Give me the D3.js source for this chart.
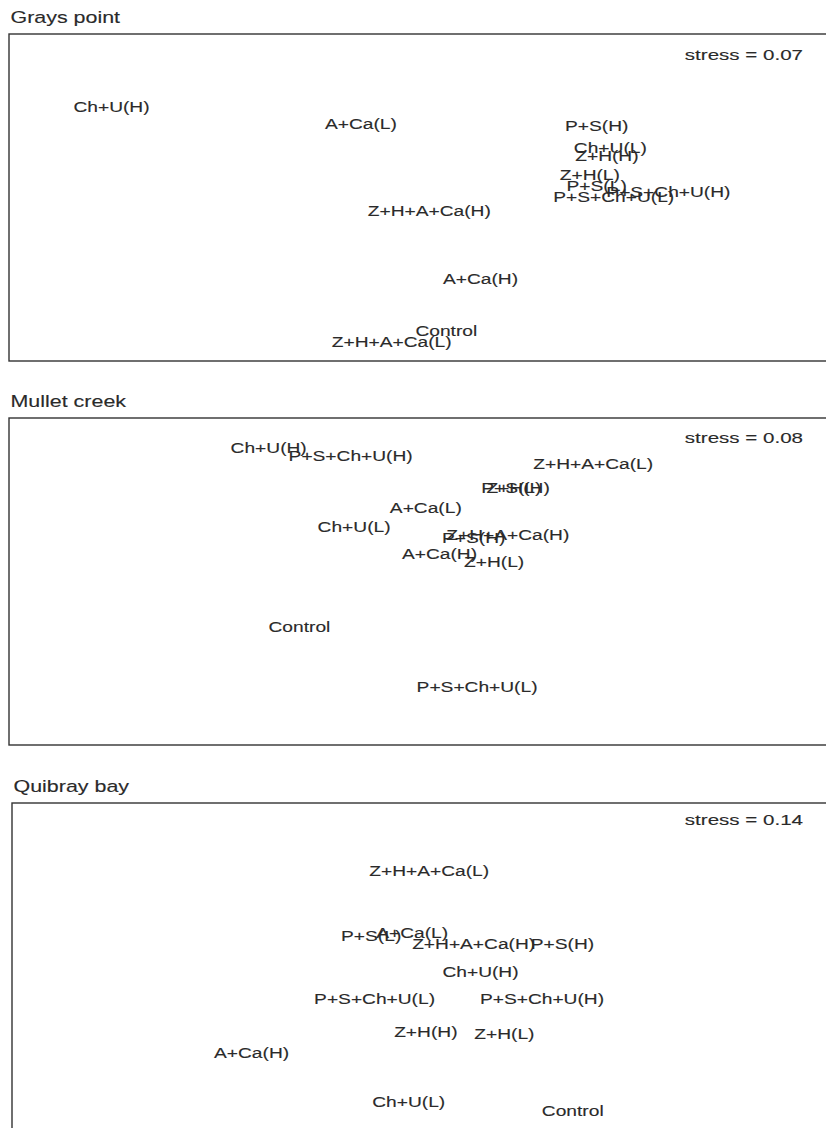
<!DOCTYPE html>
<html>
<head>
<meta charset="utf-8">
<script src="https://cdn.jsdelivr.net/npm/d3@7"></script>
<style>
  html, body { margin: 0; padding: 0; background: #fff; }
  svg { display: block; }
  text { font-family: "Liberation Sans", Arial, Helvetica, sans-serif; fill: #2a2a2a; stroke: #2a2a2a; stroke-width: 0.12px; }
</style>
</head>
<body>
<svg id="chart" width="826" height="1128"></svg>
<script>
// NMDS ordinations of treatment assemblages at three sites

const siteNames = ["Grays point", "Mullet creek", "Quibray bay"];
const stressValues = [0.07, 0.08, 0.14];

// Grays point
const graysLabels = ["Ch+U(H)", "A+Ca(L)", "P+S(H)", "Ch+U(L)", "Z+H(H)", "Z+H(L)", "P+S(L)",
  "P+S+Ch+U(H)", "P+S+Ch+U(L)", "Z+H+A+Ca(H)", "A+Ca(H)", "Control", "Z+H+A+Ca(L)"];
const graysNMDS1 = [-0.90, -0.17, 0.52, 0.56, 0.55, 0.50, 0.52, 0.73, 0.57, 0.03, 0.18, 0.08, -0.08];
const graysNMDS2 = [0.33, 0.27, 0.26, 0.18, 0.15, 0.08, 0.04, 0.02, 0.00, -0.05, -0.30, -0.49, -0.53];

// Mullet creek
const mulletLabels = ["Ch+U(H)", "P+S+Ch+U(H)", "Z+H+A+Ca(L)", "P+S(L)", "Z+H(H)", "A+Ca(L)", "Ch+U(L)",
  "Z+H+A+Ca(H)", "P+S(H)", "A+Ca(H)", "Z+H(L)", "Control", "P+S+Ch+U(L)"];
const mulletNMDS1 = [-0.44, -0.20, 0.51, 0.27, 0.29, 0.02, -0.19, 0.26, 0.16, 0.06, 0.22, -0.35, 0.17];
const mulletNMDS2 = [0.49, 0.46, 0.43, 0.34, 0.34, 0.27, 0.20, 0.17, 0.16, 0.10, 0.07, -0.17, -0.39];

// Quibray bay
const quibrayLabels = ["Z+H+A+Ca(L)", "P+S(L)", "A+Ca(L)", "Z+H+A+Ca(H)", "P+S(H)", "Ch+U(H)", "P+S+Ch+U(L)",
  "P+S+Ch+U(H)", "Z+H(H)", "Z+H(L)", "A+Ca(H)", "Ch+U(L)", "Control"];
const quibrayNMDS1 = [0.03, -0.14, -0.02, 0.16, 0.42, 0.18, -0.13, 0.36, 0.02, 0.25, -0.49, -0.03, 0.45];
const quibrayNMDS2 = [0.35, 0.11, 0.12, 0.08, 0.08, -0.02, -0.12, -0.12, -0.24, -0.25, -0.32, -0.50, -0.53];

const sites = [
  { labels: graysLabels, x: graysNMDS1, y: graysNMDS2 },
  { labels: mulletLabels, x: mulletNMDS1, y: mulletNMDS2 },
  { labels: quibrayLabels, x: quibrayNMDS1, y: quibrayNMDS2 }
];

// panel frames
const frames = [
  { top: 34, left: 9, stressDy: 26 },
  { top: 418, left: 9, stressDy: 25 },
  { top: 803, left: 12, stressDy: 22 }
];
const panelH = 327;
const plotRight = 829;
const stretch = 1.37;   // glyphs are drawn wide
const labelSize = 14;

const svg = d3.select("#chart");

sites.forEach((site, i) => {
  const f = frames[i];
  const g = svg.append("g");

  const x = d3.scaleLinear().domain([-1.2, 1.2]).range([9, plotRight]);
  const y = d3.scaleLinear().domain([-0.6, 0.6]).range([f.top + panelH, f.top]);

  g.append("rect")
    .attr("x", f.left).attr("y", f.top)
    .attr("width", 840 - f.left).attr("height", panelH)
    .attr("fill", "none").attr("stroke", "#333").attr("stroke-width", 1.4);

  g.append("text")
    .attr("transform", `translate(${f.left + 1.5},${f.top - 11}) scale(1.34,1)`)
    .attr("font-size", 16)
    .text(siteNames[i]);

  g.append("text")
    .attr("transform", `translate(803,${f.top + f.stressDy}) scale(${stretch},1)`)
    .attr("text-anchor", "end")
    .attr("font-size", 15)
    .text(`stress = ${stressValues[i].toFixed(2)}`);

  g.selectAll("text.site")
    .data(site.labels.map((lab, k) => ({ lab, nx: site.x[k], ny: site.y[k] })))
    .join("text")
    .attr("class", "site")
    .attr("transform", d => `translate(${x(d.nx)},${y(d.ny)}) scale(${stretch},1)`)
    .attr("text-anchor", "middle")
    .attr("dy", "0.33em")
    .attr("font-size", labelSize)
    .text(d => d.lab);
});
</script>
</body>
</html>
